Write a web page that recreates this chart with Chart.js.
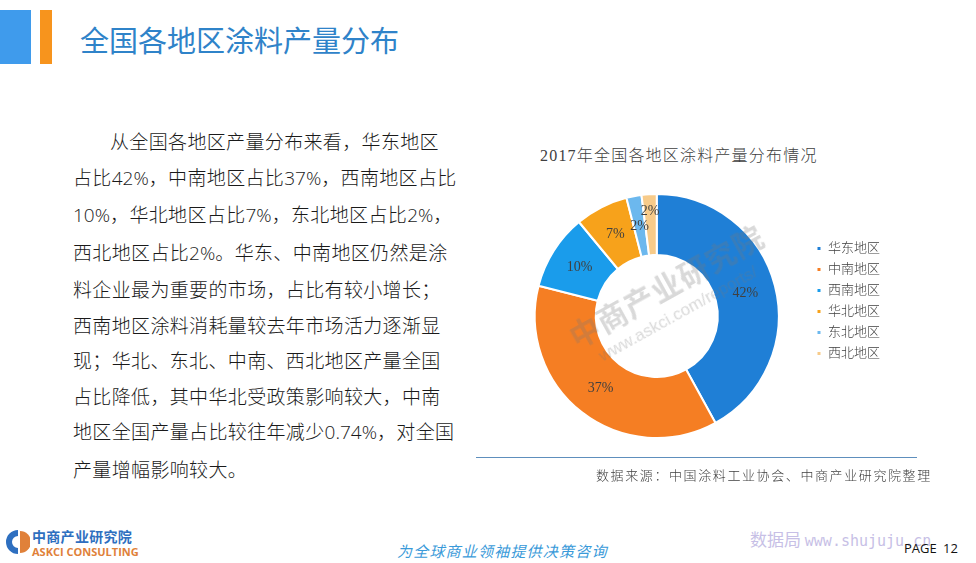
<!DOCTYPE html>
<html lang="zh-CN">
<head>
<meta charset="utf-8">
<title>全国各地区涂料产量分布</title>
<script src="https://cdn.jsdelivr.net/npm/chart.js@4.4.0/dist/chart.umd.min.js"></script>
<style>
    html, body { margin: 0; padding: 0; background: #ffffff; }
    body { width: 976px; height: 563px; position: relative; overflow: hidden;
           font-family: "Noto Sans CJK SC", sans-serif; }
    .bar-blue { position: absolute; left: 0; top: 10px; width: 31px; height: 54px; background: #3f9bec; }
    .bar-orange { position: absolute; left: 40px; top: 10px; width: 12px; height: 54px; background: #f7941d; }
    .page-title { position: absolute; left: 80px; top: 18px; font-size: 29px; color: #2f83c9; }
    .body-text { position: absolute; left: 73px; top: 123px; font-size: 19px; color: #1a1a1a; font-weight: 300;
                 line-height: 35.5px; letter-spacing: 0.35px; }
    .body-text .num { font-family: "Open Sans", "Liberation Sans", sans-serif; letter-spacing: 0; }
    .chart-title { position: absolute; left: 540px; top: 142px; font-size: 16px; color: #404040; letter-spacing: 1.2px;
                   font-weight: 300; font-family: "Liberation Serif", "Noto Sans CJK SC", serif; }
    #chartBox { position: absolute; left: 490px; top: 180px; width: 420px; height: 280px; }
    .rule { position: absolute; left: 476px; top: 457px; width: 441px; height: 1px; background: #5e8fbd; }
    .source { position: absolute; left: 596px; top: 465px; font-size: 13px; color: #404040; letter-spacing: 1.6px; font-weight: 300; }
    .watermark { position: absolute; left: 560px; top: 318px; transform: rotate(-29deg); transform-origin: left top;
                 color: rgba(120,120,120,0.28); pointer-events: none; white-space: nowrap; }
    .watermark .big { font-size: 30px; font-weight: 700; letter-spacing: 1px; }
    .watermark .small { font-size: 17px; font-family: "Liberation Sans", sans-serif; margin-left: 16px; }
    .logo { position: absolute; left: 4px; top: 528px; }
    .logo-cn { position: absolute; left: 32px; top: 526px; font-size: 14px; font-weight: 700; color: #2e6fc0; letter-spacing: 0.3px; }
    .logo-en { position: absolute; left: 32px; top: 544px; font-size: 11px; font-weight: 700; color: #e0813a;
               font-family: "Open Sans", sans-serif; }
    .slogan { position: absolute; left: 397px; top: 540px; font-size: 15px; font-style: italic; color: #3a9ad9; letter-spacing: 1.2px; }
    .stamp { position: absolute; left: 750px; top: 526px; font-size: 17px; color: #c7bfe6; }
    .stamp span { font-family: "DejaVu Sans Mono", monospace; font-size: 15px; }
    .page-no { position: absolute; left: 904px; top: 539px; font-size: 13px; color: #111;
               font-family: "Open Sans", sans-serif; word-spacing: 3px; }
</style>
</head>
<body>
<div class="bar-blue"></div>
<div class="bar-orange"></div>
<div class="page-title">全国各地区涂料产量分布</div>

<div class="body-text">
    <div style="padding-left:37px">从全国各地区产量分布来看，华东地区</div>
    <div>占比<span class="num">42%</span>，中南地区占比<span class="num">37%</span>，西南地区占比</div>
    <div><span class="num">10%</span>，华北地区占比<span class="num">7%</span>，东北地区占比<span class="num">2%</span>，</div>
    <div>西北地区占比<span class="num">2%</span>。华东、中南地区仍然是涂</div>
    <div>料企业最为重要的市场，占比有较小增长；</div>
    <div>西南地区涂料消耗量较去年市场活力逐渐显</div>
    <div>现；华北、东北、中南、西北地区产量全国</div>
    <div>占比降低，其中华北受政策影响较大，中南</div>
    <div>地区全国产量占比较往年减少<span class="num">0.74%</span>，对全国</div>
    <div>产量增幅影响较大。</div>
</div>

<div class="chart-title">2017年全国各地区涂料产量分布情况</div>
<div id="chartBox"><canvas id="regionChart"></canvas></div>
<div class="watermark"><div class="big">中商产业研究院</div><div class="small">www.askci.com/reports/</div></div>
<div class="rule"></div>
<div class="source">数据来源：中国涂料工业协会、中商产业研究院整理</div>

<svg class="logo" width="26" height="28" viewBox="0 0 26 28">
    <path d="M14 2 A12 12 0 1 0 14 26 L14 20 A6 6 0 1 1 14 8 Z" fill="#2e6fc0"/>
    <path d="M16 3 A11 11 0 0 1 16 25 Z" fill="#e0813a"/>
</svg>
<div class="logo-cn">中商产业研究院</div>
<div class="logo-en">ASKCI CONSULTING</div>
<div class="slogan">为全球商业领袖提供决策咨询</div>
<div class="stamp">数据局 <span>www.shujuju.cn</span></div>
<div class="page-no">PAGE 12</div>

<script>
// 地区与占比（%）
const regions = ['华东地区', '中南地区', '西南地区', '华北地区', '东北地区', '西北地区'];
const shares = [42, 37, 10, 7, 2, 2];
const sliceColors = ['#1f7fd6', '#f57e23', '#1a9ceb', '#f7a21b', '#6cb8ee', '#f7cb8a'];

// 在每个扇区中部写百分比
const sliceLabels = {
    id: 'sliceLabels',
    afterDatasetsDraw(chart) {
        const ctx = chart.ctx;
        const meta = chart.getDatasetMeta(0);
        ctx.save();
        ctx.font = '14px "Liberation Serif", serif';
        ctx.fillStyle = '#404040';
        ctx.textAlign = 'center';
        ctx.textBaseline = 'middle';
        meta.data.forEach((arc, i) => {
            const p = arc.getProps(['x', 'y', 'startAngle', 'endAngle', 'innerRadius', 'outerRadius'], true);
            const mid = (p.startAngle + p.endAngle) / 2;
            // 最后一个小扇区的标签略微外移，避免与相邻标签重叠
            const r = (p.innerRadius + p.outerRadius) / 2 + (i === shares.length - 1 ? 13 : 0);
            ctx.fillText(shares[i] + '%', p.x + Math.cos(mid) * r, p.y + Math.sin(mid) * r);
        });
        ctx.restore();
    }
};

new Chart(document.getElementById('regionChart'), {
    type: 'doughnut',
    data: {
        labels: regions,
        datasets: [{
            data: shares,
            backgroundColor: sliceColors,
            borderColor: '#ffffff',
            borderWidth: 2,
            hoverOffset: 0
        }]
    },
    options: {
        responsive: true,
        maintainAspectRatio: false,
        animation: false,
        radius: 122,
        cutout: '50%',
        layout: { padding: { top: 54, bottom: 62, left: 15, right: 20 } },
        plugins: {
            legend: {
                position: 'right',
                align: 'start',
                labels: {
                    boxWidth: 5,
                    boxHeight: 5,
                    padding: 8,
                    color: '#404040',
                    font: { size: 13, weight: '300', family: '"Liberation Serif", "Noto Sans CJK SC", serif' }
                }
            },
            tooltip: { enabled: false }
        }
    },
    plugins: [sliceLabels]
});
</script>
</body>
</html>
